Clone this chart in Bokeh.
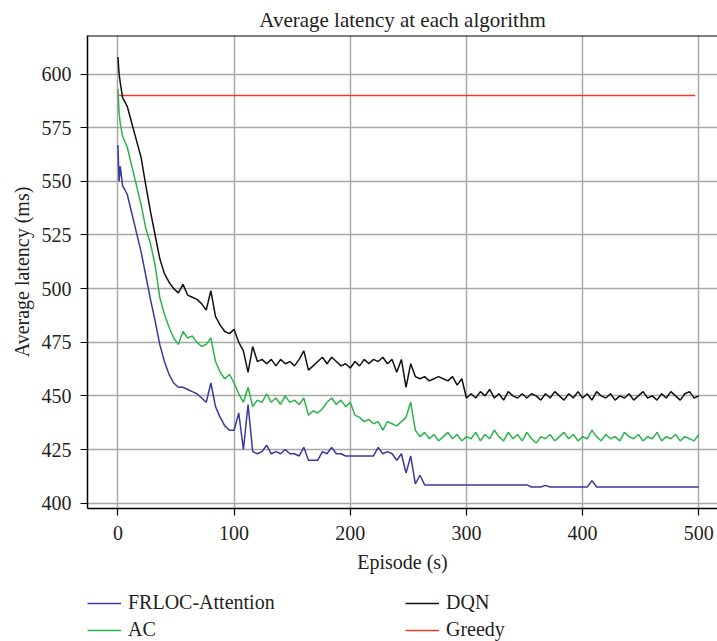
from bokeh.plotting import figure
from bokeh.layouts import column
from bokeh.models import Range1d, FixedTicker, Legend, LegendItem, Span
from bokeh.embed import file_html
from bokeh.resources import INLINE

# ---------------- data ----------------
episodes = [0, 1, 2] + list(range(4, 501, 4))

frloc = [567, 550, 557,
         548, 544, 535, 526, 517, 506, 495, 485, 474, 466,
         460, 456, 454, 454, 453, 452, 451, 449, 447, 456,
         445, 440, 436, 434, 434, 442, 425, 446, 424, 423,
         424, 427, 423, 424, 423, 425, 423, 423, 422, 426,
         420, 420, 420, 424, 423, 426, 423, 423, 422, 422,
         422, 422, 422, 422, 422, 426, 423, 424, 423, 420,
         423, 414, 422, 409, 413, 408.5, 408.5, 408.5, 408.5, 408.5,
         408.5, 408.5, 408.5, 408.5, 408.5, 408.5, 408.5, 408.5, 408.5, 408.5,
         408.5, 408.5, 408.5, 408.5, 408.5, 408.5, 408.5, 408.5, 407.5, 407.5,
         407.5, 408.3, 407.5, 407.5, 407.5, 407.5, 407.5, 407.5, 407.5, 407.5,
         407.5, 410.5, 407.5, 407.5, 407.5, 407.5, 407.5, 407.5, 407.5, 407.5,
         407.5, 407.5, 407.5, 407.5, 407.5, 407.5, 407.5, 407.5, 407.5, 407.5,
         407.5, 407.5, 407.5, 407.5, 407.5]

ac = [593, 582, 577,
      571, 566, 557, 548, 539, 528, 521, 511, 496, 488,
      482, 477, 474, 480, 477, 478, 475, 473, 474, 477,
      466, 461, 458, 460, 456, 451, 447, 454, 445, 448,
      447, 451, 447, 449, 446, 450, 447, 448, 446, 449,
      441, 443, 442, 444, 447, 449, 446, 448, 445, 447,
      441, 440, 438, 439, 437, 438, 434, 438, 437, 436,
      438, 440, 447, 434, 431, 433, 430, 432, 429, 431,
      433, 430, 432, 429, 431, 430, 433, 429, 432, 430,
      434, 431, 429, 433, 430, 432, 429, 433, 430, 428,
      431, 430, 432, 429, 431, 433, 430, 432, 429, 431,
      430, 434, 431, 429, 432, 430, 431, 429, 433, 431,
      430, 432, 429, 431, 430, 433, 429, 431, 430, 432,
      429, 431, 430, 429, 432]

dqn = [608, 600, 596,
       589, 585, 577, 569, 561, 548, 536, 525, 514, 507,
       503, 500, 498, 502, 497, 496, 495, 493, 490, 499,
       487, 483, 480, 479, 481, 475, 471, 461, 473, 466,
       467, 465, 467, 464, 467, 465, 466, 464, 467, 471,
       462, 464, 466, 468, 465, 468, 466, 464, 465, 463,
       466, 464, 467, 465, 467, 466, 468, 465, 467, 461,
       467, 454, 465, 459, 458, 459, 457, 458, 459, 458,
       457, 459, 455, 458, 449, 451, 449, 452, 450, 453,
       449, 451, 448, 452, 450, 449, 451, 449, 451, 450,
       448, 451, 449, 452, 450, 448, 451, 449, 452, 449,
       451, 448, 452, 450, 449, 451, 448, 450, 449, 451,
       448, 450, 452, 449, 450, 448, 451, 449, 452, 450,
       448, 451, 452, 449, 450]

greedy_episodes = [1, 497]
greedy = [590, 590]

x_ticks = [0, 100, 200, 300, 400, 500]
y_ticks = [400, 425, 450, 475, 500, 525, 550, 575, 600]

title_text = "Average latency at each algorithm"
x_label = "Episode (s)"
y_label = "Average latency (ms)"
series_names = ["FRLOC-Attention", "AC", "DQN", "Greedy"]

# ---------------- styling ----------------
FONT = "Liberation Serif"
TXT = "#231f20"
C_FRLOC = "#3a3a9c"
C_AC = "#2db34b"
C_DQN = "#111111"
C_GREEDY = "#f03a2a"

MAIN_H = 580
p = figure(width=717, height=MAIN_H, output_backend="svg", toolbar_location=None,
           x_range=Range1d(-26.2, 516.1), y_range=Range1d(397.5, 618),
           min_border_left=87, min_border_right=0, min_border_top=35,
           min_border_bottom=MAIN_H - 508, title=title_text)
p.outline_line_color = None
p.background_fill_color = "white"
p.border_fill_color = "white"

p.title.align = "center"
p.title.text_font = FONT
p.title.text_font_size = "21px"
p.title.text_font_style = "normal"
p.title.text_color = TXT
p.title.standoff = 8

p.line(greedy_episodes, greedy, line_color=C_GREEDY, line_width=1.6)
p.line(episodes, dqn, line_color=C_DQN, line_width=1.5)
p.line(episodes, ac, line_color=C_AC, line_width=1.5)
p.line(episodes, frloc, line_color=C_FRLOC, line_width=1.5)

p.xaxis.ticker = FixedTicker(ticks=x_ticks)
p.yaxis.ticker = FixedTicker(ticks=y_ticks)
for ax in (p.xaxis[0], p.yaxis[0]):
    ax.minor_tick_line_color = None
    ax.major_tick_in = 0
    ax.major_tick_out = 7
    ax.major_tick_line_color = "black"
    ax.major_tick_line_width = 1.2
    ax.axis_line_color = "black"
    ax.axis_line_width = 1.5
    ax.major_label_text_font = FONT
    ax.major_label_text_font_size = "20px"
    ax.major_label_text_color = TXT
    ax.axis_label_text_font = FONT
    ax.axis_label_text_font_size = "20px"
    ax.axis_label_text_font_style = "normal"
    ax.axis_label_text_color = TXT
    ax.axis_label_standoff = 8
p.xaxis.major_label_standoff = 10
p.yaxis.major_label_standoff = 9
p.yaxis.axis_label_standoff = 6
p.xaxis.axis_label = x_label
p.yaxis.axis_label = y_label

p.grid.grid_line_color = "#a8a8a8"
p.grid.grid_line_width = 1.5

p.add_layout(Span(location=617.9, dimension="width", line_color="black", line_width=1.5))

# ---------------- legend strip below the chart ----------------
LEG_H = 641 - MAIN_H
q = figure(width=717, height=LEG_H, output_backend="svg", toolbar_location=None,
           x_range=Range1d(0, 1), y_range=Range1d(0, 1),
           min_border_left=87, min_border_right=0,
           min_border_top=0, min_border_bottom=0)
q.axis.visible = False
q.grid.visible = False
q.outline_line_color = None
q.background_fill_color = "white"
q.border_fill_color = "white"

# legend proxies: same series, but outside this strip's ranges, so only the legend shows them
proxies = [q.line(episodes, frloc, line_color=C_FRLOC, line_width=1.6),
           q.line(episodes, ac, line_color=C_AC, line_width=1.6),
           q.line(episodes, dqn, line_color=C_DQN, line_width=1.6),
           q.line(greedy_episodes, greedy, line_color=C_GREEDY, line_width=1.6)]

def mk_legend(idx, loc):
    lg = Legend(items=[LegendItem(label=series_names[i], renderers=[proxies[i]]) for i in idx],
                location=loc, orientation="vertical",
                glyph_width=34, glyph_height=22, spacing=4, padding=0, margin=0,
                label_standoff=7, border_line_color=None, background_fill_alpha=0,
                label_text_font=FONT, label_text_font_size="20px",
                label_text_color=TXT)
    q.add_layout(lg)

mk_legend([0, 1], (0, 0))
mk_legend([2, 3], (318, 0))

layout = column(p, q, spacing=0)
open("out.html", "w").write(file_html(layout, INLINE))
